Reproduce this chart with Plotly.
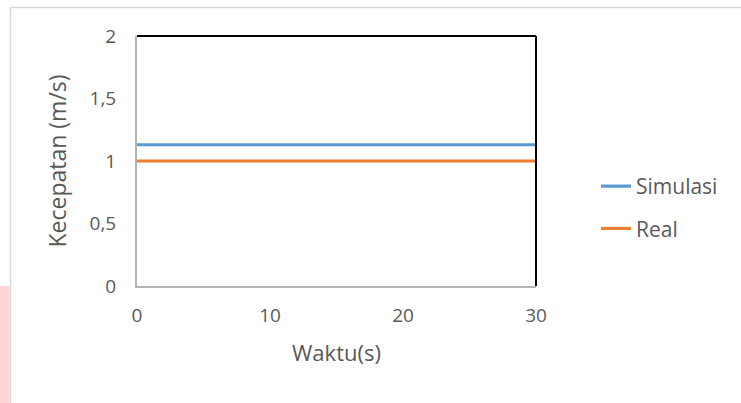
import plotly.graph_objects as go

# Kecepatan terhadap waktu
waktu = [0, 30]
simulasi = [1.13, 1.13]
real = [1.0, 1.0]

x_ticks = [0, 10, 20, 30]
y_ticks = [0, 0.5, 1, 1.5, 2]

W, H = 741, 403
L, R, T, B = 137, 205, 36, 117
pw, ph = W - L - R, H - T - B


def px(xp):
    return (xp - L) / pw


def py(yp):
    return (H - B - yp) / ph


font_col = "#595959"
fam = "Open Sans, Liberation Sans, sans-serif"

fig = go.Figure()
fig.add_trace(go.Scatter(x=waktu, y=simulasi, mode="lines", name="Simulasi",
                         line=dict(color="#5b9bd5", width=3.2), legendgroup="a"))
fig.add_trace(go.Scatter(x=waktu, y=real, mode="lines", name="Real",
                         line=dict(color="#ed7d31", width=3.2), legendgroup="b"))

shapes = [
    # outer chart frame
    dict(type="line", xref="paper", yref="paper", x0=px(10.5), x1=px(741), y0=py(7.5), y1=py(7.5),
         line=dict(color="#d9d9d9", width=1.5)),
    dict(type="line", xref="paper", yref="paper", x0=px(10.5), x1=px(10.5), y0=py(7.5), y1=py(403),
         line=dict(color="#d9d9d9", width=1.5)),
    dict(type="rect", xref="paper", yref="paper", x0=px(0), x1=px(9.5), y0=py(286), y1=py(403),
         fillcolor="#ffd5d7", line=dict(width=0), layer="below"),
    # plot area top and right borders
    dict(type="line", xref="paper", yref="paper", x0=0, x1=1, y0=1, y1=1,
         line=dict(color="black", width=2)),
    dict(type="line", xref="paper", yref="paper", x0=1, x1=1, y0=0, y1=1,
         line=dict(color="black", width=2)),
]

fig.update_layout(
    width=W, height=H,
    margin=dict(l=L, r=R, t=T, b=B, pad=0),
    paper_bgcolor="white", plot_bgcolor="white",
    separators=",.",
    font=dict(family=fam, color=font_col, size=19),
    showlegend=True,
    legend=dict(x=px(596), y=py(166), xanchor="left", yanchor="top",
                font=dict(size=21, color=font_col), tracegroupgap=12,
                bgcolor="rgba(0,0,0,0)"),
    shapes=shapes,
    xaxis=dict(range=[0, 30], tickvals=x_ticks, showgrid=False, zeroline=False,
               showline=True, linecolor="#b3b3b3", linewidth=2,
               ticks="", ticklabelstandoff=11, tickfont=dict(size=19, color=font_col),
               title=dict(text="Waktu(s)", font=dict(size=22, color=font_col), standoff=19)),
    yaxis=dict(range=[0, 2], tickvals=y_ticks, showgrid=False, zeroline=False,
               showline=True, linecolor="#b3b3b3", linewidth=2,
               ticks="", ticklabelstandoff=15, tickfont=dict(size=19, color=font_col),
               title=dict(text="Kecepatan (m/s)", font=dict(size=23, color=font_col), standoff=16)),
)

fig.write_html("out.html")
